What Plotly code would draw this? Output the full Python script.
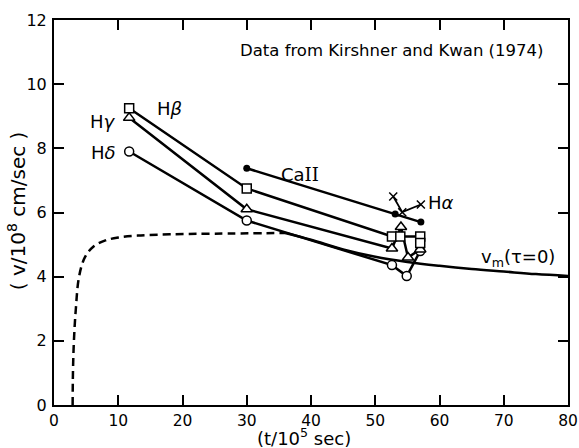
import plotly.graph_objects as go

# H-beta (squares)
hb_t = [11.7, 30.0, 52.6, 53.9, 57.0, 57.0]
hb_v = [9.25, 6.75, 5.25, 5.25, 5.25, 5.05]
# H-gamma (triangles)
hg_t = [11.7, 30.0, 52.6, 54.0, 55.1, 57.0]
hg_v = [8.95, 6.10, 4.88, 5.55, 4.60, 4.85]
# H-delta (circles)
hd_t = [11.7, 30.0, 52.6, 54.9, 57.0]
hd_v = [7.90, 5.75, 4.36, 4.02, 4.80]
# Ca II (dots)
ca_t = [30.0, 53.1, 57.1]
ca_v = [7.38, 5.95, 5.70]
# H-alpha (crosses)
ha_t = [52.8, 54.2, 57.1]
ha_v = [6.50, 6.01, 6.25]
# v_m(tau=0) solid
vm_t = [36.0, 40.0, 45.0, 50.0, 55.0, 60.0, 65.0, 70.0, 75.0, 80.0]
vm_v = [5.36, 5.15, 4.85, 4.62, 4.46, 4.34, 4.24, 4.16, 4.08, 4.02]
# dashed rise
ds_t = [2.9, 2.95, 3.1, 3.4, 3.9, 4.8, 6.2, 8.0, 10.0, 13.0, 18.0, 25.0, 36.0]
ds_v = [0.0, 1.0, 2.0, 3.0, 4.0, 4.6, 4.95, 5.13, 5.22, 5.28, 5.32, 5.34, 5.36]

x_ticks = [0, 10, 20, 30, 40, 50, 60, 70, 80]
y_ticks = [0, 2, 4, 6, 8, 10, 12]

FONT = "DejaVu Sans"
fig = go.Figure()
lw = 2.5
fig.add_trace(go.Scatter(x=ds_t, y=ds_v, mode="lines",
                         line=dict(color="black", width=lw, dash="8px,5px", shape="spline")))
fig.add_trace(go.Scatter(x=vm_t, y=vm_v, mode="lines",
                         line=dict(color="black", width=lw, shape="spline")))
fig.add_trace(go.Scatter(x=ca_t, y=ca_v, mode="lines+markers",
                         line=dict(color="black", width=lw),
                         marker=dict(symbol="circle", size=7, color="black")))
fig.add_trace(go.Scatter(x=ha_t, y=ha_v, mode="lines+markers",
                         line=dict(color="black", width=1.8),
                         marker=dict(symbol="x-thin", size=8, line=dict(color="black", width=1.5))))
fig.add_trace(go.Scatter(x=hd_t, y=hd_v, mode="lines",
                         line=dict(color="black", width=lw)))
fig.add_trace(go.Scatter(x=hd_t, y=hd_v, mode="markers",
                         marker=dict(symbol="circle", size=9, color="white",
                                     line=dict(color="black", width=1.5))))
fig.add_trace(go.Scatter(x=hg_t, y=hg_v, mode="lines",
                         line=dict(color="black", width=lw)))
fig.add_trace(go.Scatter(x=hg_t, y=hg_v, mode="markers",
                         marker=dict(symbol="triangle-up", size=10, color="white",
                                     line=dict(color="black", width=1.5))))
fig.add_trace(go.Scatter(x=hb_t, y=hb_v, mode="lines",
                         line=dict(color="black", width=lw)))
fig.add_trace(go.Scatter(x=hb_t, y=hb_v, mode="markers",
                         marker=dict(symbol="square", size=9, color="white",
                                     line=dict(color="black", width=1.5))))

ann = [
    (52.5, 11.06, "Data from Kirshner and Kwan (1974)", 16.5),
    (7.6, 8.85, "H<i>γ</i>", 18),
    (17.9, 9.25, "H<i>β</i>", 18),
    (7.7, 7.88, "H<i>δ</i>", 18),
    (38.3, 7.2, "Ca<span style='font-family:DejaVu Serif'>II</span>", 18),
    (60.3, 6.32, "H<i>α</i>", 18),
    (72.2, 4.58, "v<sub>m</sub>(τ=0)", 18),
]
for x, y, t, s in ann:
    fig.add_annotation(x=x, y=y, text=t, showarrow=False, xref="x", yref="y",
                       font=dict(family=FONT, size=s, color="black"))

# axis titles
fig.add_annotation(x=0.487, y=-0.117, xref="paper", yref="paper", showarrow=False,
                   text="(t/10<sup>5</sup> sec)", yanchor="bottom", borderpad=0,
                   font=dict(family=FONT, size=18, color="black"))
fig.add_annotation(x=-0.072, y=0.506, xref="paper", yref="paper", showarrow=False,
                   text="( v/10<sup>8</sup> cm/sec )", textangle=-90, xanchor="center",
                   font=dict(family=FONT, size=20, color="black"))

axis_common = dict(showline=True, linecolor="black", linewidth=2, mirror="allticks",
                   ticks="inside", ticklen=10, tickwidth=1.5, tickcolor="black",
                   showgrid=False, zeroline=False, automargin=False)
fig.update_xaxes(range=[0, 80], tickvals=x_ticks, ticktext=[str(v) for v in x_ticks],
                 ticklabelstandoff=0, tickfont=dict(family=FONT, size=15.5, color="black"),
                 **axis_common)
fig.update_yaxes(range=[0, 12], tickvals=y_ticks, ticktext=[str(v) for v in y_ticks],
                 ticklabelstandoff=2, tickfont=dict(family=FONT, size=16, color="black"),
                 **axis_common)
fig.update_layout(width=579, height=448, margin=dict(l=54, r=11, t=20, b=43),
                  paper_bgcolor="white", plot_bgcolor="white", showlegend=False)
fig.write_html("out.html")
